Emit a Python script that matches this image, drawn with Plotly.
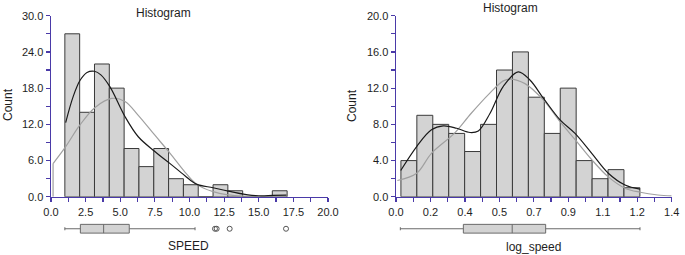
import plotly.graph_objects as go

W, H = 685, 255

# ---------------- data ----------------
# Left: SPEED histogram
speed_bin_start = 1.0
speed_bin_width = 1.07
speed_counts = [27, 14, 22, 18, 8, 5, 8, 3, 2, 0, 2, 1, 0, 0, 1]

speed_kde_x = [1.06, 1.6, 2.1, 2.6, 3.13, 3.6, 4.26, 5.34, 6.3, 7.5, 8.6, 9.67, 10.5, 11.7, 12.8, 13.9, 15.0, 16.0, 17.0]
speed_kde_y = [12.3, 16.6, 19.3, 20.6, 20.8, 20.2, 18.2, 13.3, 9.95, 7.5, 5.5, 3.5, 2.1, 1.5, 0.95, 0.45, 0.17, 0.22, 0.28]

speed_norm_x = [0.15, 1.06, 2.09, 3.18, 4.38, 5.34, 6.3, 7.5, 8.6, 9.67, 10.5, 11.7, 12.8, 13.9, 15.0, 16.0, 17.0]
speed_norm_y = [5.5, 8.3, 11.9, 14.8, 16.3, 15.8, 13.5, 10.2, 7.2, 4.1, 2.1, 0.85, 0.32, 0.1, 0.03, 0.01, 0.0]

speed_box = dict(lowerfence=1.0, q1=2.12, median=3.8, q3=5.65, upperfence=10.4)
speed_outliers = [11.84, 11.96, 12.9, 16.97]

# Right: log_speed histogram
log_bin_start = 0.025
log_bin_width = 0.0809
log_counts = [4, 9, 8, 7, 5, 8, 14, 16, 11, 7, 12, 4, 2, 3, 1]

log_kde_x = [0.024, 0.105, 0.18, 0.24, 0.308, 0.376, 0.418, 0.477, 0.545, 0.621, 0.68, 0.748, 0.833, 0.909, 0.994, 1.078, 1.163, 1.239]
log_kde_y = [2.9, 5.55, 7.4, 7.83, 7.57, 7.1, 7.27, 9.2, 12.2, 13.8, 12.9, 10.9, 8.5, 7.0, 4.8, 2.6, 1.3, 0.85]

log_norm_x = [0.007, 0.105, 0.18, 0.296, 0.381, 0.474, 0.545, 0.579, 0.655, 0.748, 0.833, 0.918, 0.994, 1.078, 1.163, 1.24, 1.33, 1.4]
log_norm_y = [1.8, 2.6, 4.8, 7.0, 9.2, 11.4, 12.8, 13.0, 12.5, 10.7, 8.3, 6.1, 4.1, 2.2, 0.95, 0.5, 0.2, 0.1]

log_box = dict(lowerfence=0.022, q1=0.342, median=0.59, q3=0.76, upperfence=1.239)

left_xticks = [0, 2.5, 5, 7.5, 10, 12.5, 15, 17.5, 20]
left_xticktext = ["0.0", "2.5", "5.0", "7.5", "10.0", "12.5", "15.0", "17.5", "20.0"]
left_yticks = [0, 6, 12, 18, 24, 30]
left_yticktext = ["0.0", "6.0", "12.0", "18.0", "24.0", "30.0"]

right_xticks = [0, 0.175, 0.35, 0.525, 0.7, 0.875, 1.05, 1.225, 1.4]
right_xticktext = ["0.0", "0.2", "0.4", "0.5", "0.7", "0.9", "1.1", "1.2", "1.4"]
right_yticks = [0, 4, 8, 12, 16, 20]
right_yticktext = ["0.0", "4.0", "8.0", "12.0", "16.0", "20.0"]

# ---------------- style ----------------
AXIS = "#4a3aa8"
BAR_FILL = "#d3d3d3"
BAR_LINE = "#3a3a3a"
FONT = "Liberation Sans, Arial, sans-serif"
TXT = "#1e1e1e"
GRAY = "#a0a0a0"


def px_x(p):
    return p / W


def px_y(p):
    return 1 - p / H


def centers(start, width, n):
    return [start + width * (i + 0.5) for i in range(n)]


fig = go.Figure()

# Left histogram
fig.add_trace(go.Bar(x=centers(speed_bin_start, speed_bin_width, len(speed_counts)), y=speed_counts,
                     width=[speed_bin_width] * len(speed_counts),
                     marker=dict(color=BAR_FILL, line=dict(color=BAR_LINE, width=1)),
                     xaxis="x", yaxis="y", showlegend=False, hoverinfo="skip"))
# vertical drop at the start of the normal curve
fig.add_trace(go.Scatter(x=[speed_norm_x[0], speed_norm_x[0]], y=[0, speed_norm_y[0]], mode="lines",
                         line=dict(color=GRAY, width=1.2), xaxis="x", yaxis="y", showlegend=False, hoverinfo="skip"))
fig.add_trace(go.Scatter(x=speed_norm_x, y=speed_norm_y, mode="lines", line=dict(color=GRAY, width=1.2, shape="spline"),
                         xaxis="x", yaxis="y", showlegend=False, hoverinfo="skip"))
fig.add_trace(go.Scatter(x=speed_kde_x, y=speed_kde_y, mode="lines", line=dict(color="#1a1a1a", width=1.2, shape="spline"),
                         xaxis="x", yaxis="y", showlegend=False, hoverinfo="skip"))

# Right histogram
fig.add_trace(go.Bar(x=centers(log_bin_start, log_bin_width, len(log_counts)), y=log_counts,
                     width=[log_bin_width] * len(log_counts),
                     marker=dict(color=BAR_FILL, line=dict(color=BAR_LINE, width=1)),
                     xaxis="x2", yaxis="y2", showlegend=False, hoverinfo="skip"))
fig.add_trace(go.Scatter(x=log_norm_x, y=log_norm_y, mode="lines", line=dict(color=GRAY, width=1.2, shape="spline"),
                         xaxis="x2", yaxis="y2", showlegend=False, hoverinfo="skip"))
fig.add_trace(go.Scatter(x=log_kde_x, y=log_kde_y, mode="lines", line=dict(color="#1a1a1a", width=1.2, shape="spline"),
                         xaxis="x2", yaxis="y2", showlegend=False, hoverinfo="skip"))

# Box plots
fig.add_trace(go.Box(y=[0], orientation="h", width=0.5, whiskerwidth=0.35,
                     q1=[speed_box["q1"]], median=[speed_box["median"]], q3=[speed_box["q3"]],
                     lowerfence=[speed_box["lowerfence"]], upperfence=[speed_box["upperfence"]],
                     fillcolor=BAR_FILL, line=dict(color="#6a6a6a", width=1),
                     xaxis="x3", yaxis="y3", showlegend=False, hoverinfo="skip"))
fig.add_trace(go.Scatter(x=speed_outliers, y=[0] * len(speed_outliers), mode="markers",
                         marker=dict(symbol="circle-open", size=5, color="#555555", line=dict(width=1)),
                         xaxis="x3", yaxis="y3", showlegend=False, hoverinfo="skip"))
fig.add_trace(go.Box(y=[0], orientation="h", width=0.5, whiskerwidth=0.35,
                     q1=[log_box["q1"]], median=[log_box["median"]], q3=[log_box["q3"]],
                     lowerfence=[log_box["lowerfence"]], upperfence=[log_box["upperfence"]],
                     fillcolor=BAR_FILL, line=dict(color="#6a6a6a", width=1),
                     xaxis="x4", yaxis="y4", showlegend=False, hoverinfo="skip"))

left_dom = [px_x(51), px_x(328)]
right_dom = [px_x(396), px_x(671.7)]
main_dom = [px_y(196.8), px_y(15.7)]
box_dom = [px_y(237.5), px_y(220)]

tickfont = dict(family=FONT, size=11, color=TXT)


def xax(dom, rng, tv, tt, minor_dtick, anchor):
    return dict(domain=dom, range=rng, tickmode="array", tickvals=tv, ticktext=tt,
                showline=True, linecolor=AXIS, linewidth=1.5, ticks="outside", ticklen=4,
                tickcolor=AXIS, tickwidth=1.2, showgrid=False, zeroline=False, automargin=False,
                minor=dict(tick0=0, dtick=minor_dtick, ticks="outside", ticklen=4, tickcolor=AXIS, tickwidth=1.2),
                tickfont=tickfont, anchor=anchor, fixedrange=True)


def yax(rng, tv, tt, minor_dtick, anchor):
    return dict(domain=main_dom, range=rng, tickmode="array", tickvals=tv, ticktext=tt,
                showline=True, linecolor=AXIS, linewidth=1.5, ticks="outside", ticklen=4,
                tickcolor=AXIS, tickwidth=1.2, showgrid=False, zeroline=False, automargin=False,
                minor=dict(tick0=0, dtick=minor_dtick, ticks="outside", ticklen=4, tickcolor=AXIS, tickwidth=1.2),
                tickfont=tickfont, anchor=anchor, fixedrange=True)


hidden = dict(visible=False, automargin=False, fixedrange=True, showgrid=False, zeroline=False)

fig.update_layout(
    width=W, height=H,
    margin=dict(l=0, r=0, t=0, b=0, autoexpand=False),
    paper_bgcolor="white", plot_bgcolor="rgba(0,0,0,0)",
    font=dict(family=FONT, size=11, color=TXT),
    bargap=0,
    hovermode=False,
    xaxis=xax(left_dom, [0, 20], left_xticks, left_xticktext, 1.25, "y"),
    yaxis=yax([0, 30], left_yticks, left_yticktext, 3, "x"),
    xaxis2=xax(right_dom, [0, 1.4], right_xticks, right_xticktext, 0.0875, "y2"),
    yaxis2=yax([0, 20], right_yticks, right_yticktext, 2, "x2"),
    xaxis3=dict(domain=left_dom, range=[0, 20], anchor="y3", **hidden),
    yaxis3=dict(domain=box_dom, range=[-0.5, 0.5], anchor="x3", **hidden),
    xaxis4=dict(domain=right_dom, range=[0, 1.4], anchor="y4", **hidden),
    yaxis4=dict(domain=box_dom, range=[-0.5, 0.5], anchor="x4", **hidden),
    annotations=[
        dict(text="Histogram", x=px_x(163), y=px_y(13), xref="paper", yref="paper", showarrow=False,
             font=dict(family=FONT, size=12, color=TXT), xanchor="center", yanchor="middle"),
        dict(text="Histogram", x=px_x(510), y=px_y(7.5), xref="paper", yref="paper", showarrow=False,
             font=dict(family=FONT, size=12, color=TXT), xanchor="center", yanchor="middle"),
        dict(text="Count", x=px_x(8), y=px_y(105), xref="paper", yref="paper", showarrow=False, textangle=-90,
             font=dict(family=FONT, size=12, color=TXT), xanchor="center", yanchor="middle"),
        dict(text="Count", x=px_x(352), y=px_y(106), xref="paper", yref="paper", showarrow=False, textangle=-90,
             font=dict(family=FONT, size=12, color=TXT), xanchor="center", yanchor="middle"),
        dict(text="SPEED", x=px_x(188), y=px_y(246), xref="paper", yref="paper", showarrow=False,
             font=dict(family=FONT, size=12, color=TXT), xanchor="center", yanchor="middle"),
        dict(text="log_speed", x=px_x(533), y=px_y(246.5), xref="paper", yref="paper", showarrow=False,
             font=dict(family=FONT, size=12, color=TXT), xanchor="center", yanchor="middle"),
    ],
)

fig.write_html("out.html", config={"displayModeBar": False, "staticPlot": True},
               post_script="document.body.style.margin='0';document.body.style.padding='0';document.body.style.overflow='hidden';")
